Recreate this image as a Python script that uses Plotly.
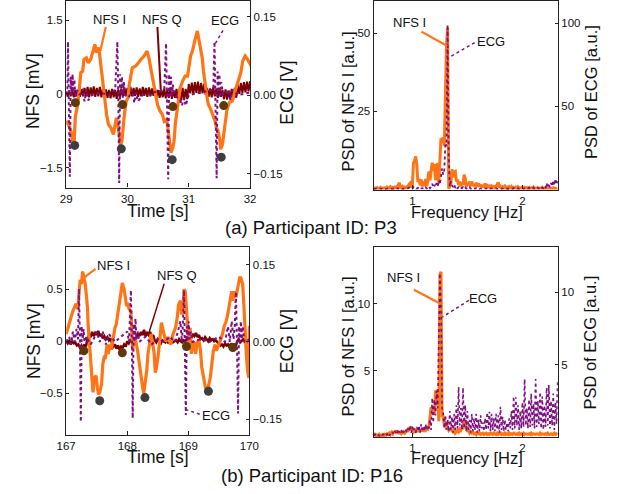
import numpy as np
import plotly.graph_objects as go

# ---------------- (a) Participant P3 : time domain ----------------
NFS_I_A_T = [29.00,29.05,29.08,29.11,29.13,29.15,29.19,29.22,29.24,29.27,29.29,29.33,29.36,29.40,29.44,29.47,29.49,29.52,29.54,29.57,
             29.61,29.64,29.66,29.69,29.73,29.77,29.79,29.82,29.85,29.87,29.89,29.91,29.93,29.95,29.98,30.01,30.03,30.06,30.08,30.14,
             30.17,30.22,30.27,30.32,30.35,30.38,30.42,30.45,30.49,30.53,30.57,30.60,30.64,30.66,30.69,30.71,30.74,30.76,30.78,30.81,
             30.83,30.86,30.90,30.94,30.98,31.01,31.03,31.06,31.08,31.11,31.14,31.16,31.19,31.22,31.24,31.27,31.30,31.32,31.35,31.39,
             31.43,31.45,31.48,31.51,31.52,31.55,31.57,31.59,31.62,31.66,31.71,31.74,31.78,31.81,31.85,31.88,31.92,31.95,31.99,32.02]
NFS_I_A = [-0.55,-0.66,-0.76,-1.00,-1.03,-0.46,-0.22,0.12,0.43,0.46,0.70,0.73,0.63,0.70,0.87,1.01,0.84,0.94,0.87,0.53,
           0.12,-0.15,-0.42,-0.62,-0.69,-0.83,-0.69,-0.49,-0.69,-0.83,-1.03,-0.97,-0.62,-0.42,-0.15,-0.08,0.19,0.40,0.53,0.57,
           0.63,0.70,0.77,0.87,0.73,0.53,0.26,0.06,-0.22,-0.35,-0.42,-0.56,-0.52,-0.69,-0.97,-1.20,-1.10,-0.97,-0.62,-0.35,
           -0.15,0.12,0.26,0.36,0.36,0.60,0.77,0.87,1.01,1.14,1.28,1.14,0.94,0.73,0.46,0.12,-0.08,-0.22,-0.29,-0.42,
           -0.56,-0.69,-0.76,-0.97,-1.13,-1.03,-0.83,-0.56,-0.35,-0.18,-0.15,-0.01,0.16,0.29,0.43,0.67,0.77,0.72,0.63,0.57]

NFS_Q_A_T0 = 29.0
NFS_Q_A_DT = 0.025
NFS_Q_A = [0.05,-0.06,0.07,-0.05,0.06,-0.07,0.08,-0.04,0.07,-0.06,0.09,-0.05,
           0.12,-0.05,0.14,-0.07,0.13,-0.04,0.15,-0.06,0.12,-0.05,0.14,-0.07,0.11,-0.06,
           0.09,-0.08,0.08,-0.09,0.10,-0.07,0.08,-0.10,0.09,-0.08,
           0.11,-0.05,0.13,-0.04,0.12,-0.06,0.14,-0.05,0.12,-0.04,0.13,-0.06,0.11,-0.05,0.14,-0.04,0.12,-0.06,0.13,-0.05,0.11,-0.04,0.12,-0.06,
           0.08,-0.08,0.09,-0.07,0.10,-0.09,0.08,-0.08,0.09,-0.10,0.07,-0.08,
           0.10,-0.12,0.11,-0.14,0.12,-0.13,0.10,-0.11,
           0.20,0.01,0.23,-0.01,0.24,0.02,0.25,0.00,0.22,0.01,0.20,-0.02,
           0.12,-0.06,0.11,-0.07,0.13,-0.05,0.10,-0.08,0.12,-0.06,
           0.08,-0.11,0.09,-0.12,0.07,-0.10,0.10,-0.12,0.12,-0.08,
           0.18,0.00,0.22,0.02,0.24,0.03,0.25,0.05,0.26]

ECG_A_T = [29.00,29.02,29.03,29.045,29.06,29.075,29.09,29.105,29.12,29.135,29.15,29.18,29.22,29.27,29.30,29.33,29.36,29.42,29.55,29.70,29.80,
           29.835,29.85,29.865,29.88,29.895,29.91,29.925,29.94,29.96,30.02,30.08,30.11,30.14,30.17,30.25,30.45,30.60,
           30.63,30.645,30.665,30.68,30.695,30.71,30.725,30.74,30.77,30.86,30.89,30.92,30.95,31.00,31.20,31.40,
           31.42,31.435,31.455,31.47,31.485,31.50,31.515,31.53,31.56,31.65,31.68,31.71,31.80,32.00]
ECG_A = [0.00,0.01,0.102,0.01,-0.156,0.035,0.00,0.04,0.005,0.03,-0.005,0.01,0.00,0.012,-0.012,0.01,-0.01,0.00,0.005,0.00,0.01,
         0.102,0.01,-0.168,0.04,0.005,0.035,-0.005,0.025,0.00,-0.005,0.01,-0.015,0.005,-0.012,0.00,0.005,0.01,
         0.099,0.01,-0.161,0.04,0.00,0.035,-0.005,0.02,0.00,-0.01,-0.02,-0.005,-0.02,0.00,0.005,0.01,
         0.102,0.01,-0.159,0.045,0.005,0.04,-0.005,0.025,0.00,0.01,-0.01,0.01,0.00,0.005]

MARK_A_UP_T = [29.15, 29.92, 30.74, 31.57]
MARK_A_UP = [-0.18, -0.22, -0.26, -0.24]
MARK_A_LO_T = [29.14, 29.90, 30.73, 31.53]
MARK_A_LO = [-1.05, -1.12, -1.34, -1.29]

# ---------------- (b) Participant P16 : time domain ----------------
NFS_I_B_T = [167.00,167.03,167.06,167.08,167.11,167.14,167.16,167.19,167.21,167.23,167.25,167.27,167.29,167.31,167.33,167.35,167.36,167.38,167.40,167.41,
             167.43,167.44,167.46,167.49,167.51,167.53,167.55,167.58,167.60,167.62,167.64,167.67,167.69,167.72,167.74,167.77,167.80,167.82,167.85,167.88,
             167.90,167.92,167.95,167.97,167.99,168.01,168.03,168.06,168.08,168.09,168.11,168.14,168.17,168.19,168.22,168.25,168.27,168.29,168.32,168.34,
             168.36,168.39,168.42,168.44,168.46,168.48,168.51,168.54,168.56,168.59,168.63,168.67,168.71,168.75,168.79,168.82,168.84,168.87,168.89,168.91,
             168.93,168.95,168.97,168.99,169.01,169.03,169.05,169.07,169.09,169.12,169.14,169.17,169.20,169.22,169.25,169.28,169.30,169.33,169.36,169.38,
             169.41,169.44,169.46,169.49,169.52,169.56,169.59,169.62,169.65,169.68,169.71,169.73,169.76,169.78,169.81,169.84,169.86,169.89,169.91,169.93,
             169.95,169.97,169.99,170.00]
NFS_I_B = [0.07,0.13,0.20,0.25,0.29,0.33,0.36,0.31,0.50,0.59,0.55,0.67,0.61,0.56,0.45,0.32,0.16,0.00,-0.12,-0.25,
           -0.41,-0.49,-0.35,-0.33,-0.44,-0.51,-0.49,-0.41,-0.22,-0.16,-0.17,-0.03,-0.12,-0.03,-0.08,0.04,0.13,0.16,0.29,0.42,
           0.51,0.56,0.50,0.40,0.34,0.35,0.31,0.29,0.10,-0.09,0.04,0.00,-0.09,-0.19,-0.32,-0.43,-0.50,-0.41,-0.28,-0.12,
           -0.03,0.07,-0.03,-0.11,-0.30,-0.25,-0.12,0.07,0.18,0.10,0.00,0.04,-0.03,0.07,0.13,0.23,0.35,0.39,0.26,0.29,
           0.50,0.48,0.32,0.13,-0.03,0.13,-0.12,-0.03,0.00,-0.12,-0.03,0.02,-0.09,-0.25,-0.36,-0.44,-0.48,-0.43,-0.35,-0.22,
           -0.09,-0.03,-0.09,-0.05,0.00,0.07,0.15,0.19,0.27,0.40,0.48,0.39,0.48,0.42,0.51,0.61,0.61,0.55,0.35,0.04,
           -0.12,-0.28,-0.35,0.15]

NFS_Q_B_T0 = 167.0
NFS_Q_B_DT = 0.025
NFS_Q_B = [0.00,-0.02,0.01,-0.03,0.00,-0.02,-0.01,-0.04,
           -0.03,-0.06,-0.04,-0.07,-0.03,-0.05,
           0.03,0.06,0.04,0.09,0.05,0.08,0.06,0.10,0.05,0.07,
           0.03,0.05,0.02,0.04,0.01,0.03,
           -0.02,-0.05,-0.03,-0.07,-0.04,-0.08,-0.05,-0.06,-0.03,-0.05,
           0.00,-0.02,0.01,-0.01,0.02,0.00,
           0.04,0.07,0.05,0.09,0.06,0.11,0.05,0.08,0.06,0.09,0.04,0.06,
           0.01,-0.01,0.02,0.00,-0.02,0.01,0.00,-0.01,0.02,-0.02,0.00,0.01,-0.01,0.00,
           0.01,-0.01,0.02,0.00,-0.01,0.01,0.00,0.02,
           0.04,0.06,0.03,0.07,0.05,0.08,0.04,0.06,
           0.02,0.03,0.01,0.04,0.02,0.00,0.03,0.01,0.02,0.00,0.01,-0.01,
           -0.02,-0.04,-0.03,-0.05,-0.02,-0.04,-0.03,-0.06,-0.02,-0.04,-0.03,-0.05,
           0.00,0.02,-0.01,0.01,0.02,0.00,0.01,-0.01,0.01]

ECG_B_T = [167.00,167.05,167.08,167.11,167.14,167.17,167.195,167.21,167.225,167.24,167.255,167.27,167.285,167.30,167.33,167.40,167.45,167.50,167.55,167.60,167.65,167.70,167.80,167.90,168.00,168.03,
           168.06,168.075,168.09,168.105,168.12,168.135,168.15,168.17,168.20,168.30,168.40,168.50,168.60,168.70,168.78,168.83,168.87,168.895,168.91,
           168.93,168.945,168.96,168.975,168.99,169.005,169.02,169.04,169.07,169.20,169.35,169.50,169.60,169.65,169.68,169.71,169.74,169.76,
           169.78,169.795,169.815,169.83,169.845,169.86,169.875,169.89,169.92,170.00]
ECG_B = [0.00,0.01,-0.005,0.02,0.00,0.025,0.005,0.103,0.01,-0.155,0.03,0.005,0.025,0.00,0.01,-0.005,0.005,0.02,0.00,0.02,-0.005,0.015,0.00,0.01,0.02,0.00,
         0.10,0.01,-0.148,0.035,0.00,0.045,0.005,0.02,0.00,0.01,-0.005,0.005,0.00,0.01,0.00,0.02,0.04,0.00,0.03,
         0.10,0.01,-0.142,0.03,0.00,0.04,0.005,0.02,0.00,0.005,0.00,0.01,0.00,0.03,0.00,0.04,0.005,0.03,
         0.097,0.01,-0.139,0.03,0.00,0.04,0.005,0.03,0.00,0.005]

MARK_B_UP_T = [167.29, 167.92, 168.97, 169.73]
MARK_B_UP = [-0.09, -0.11, -0.05, -0.06]
MARK_B_LO_T = [167.55, 168.29, 169.33]
MARK_B_LO = [-0.57, -0.54, -0.48]

# ---------------- spectra (frequency grid 0.65 .. 2.32 Hz, 0.01 Hz) ----------------
PSD_F0 = 0.65
PSD_DF = 0.01
PSD_NFS_A = [0.3,0.5,0.2,0.6,0.3,0.4,0.7,0.3,0.5,0.4,
             0.6,0.3,0.8,0.5,0.4,0.9,0.5,0.7,0.4,0.8,
             0.6,1.0,1.3,2.2,0.8,0.6,1.0,0.5,0.8,0.6,
             0.9,0.5,1.8,2.1,0.7,1.5,8.5,9.2,10.6,8.0,
             2.4,3.4,1.4,3.2,1.0,2.6,1.2,3.4,1.1,2.6,
             5.8,3.0,7.0,8.6,6.0,8.2,3.0,5.5,8.5,2.2,
             9.0,16.4,16.0,16.6,14.0,36.0,46.0,51.8,0.3,1.0,
             2.0,6.5,4.0,5.6,5.8,2.6,3.2,1.5,2.6,1.0,
             2.2,1.5,4.8,3.6,1.0,2.2,1.4,2.6,1.0,2.6,
             1.2,1.8,0.8,2.2,1.0,2.0,0.9,1.6,0.8,1.4,
             0.7,2.0,0.8,1.2,0.6,1.5,0.7,1.1,0.5,1.3,
             0.6,1.0,2.0,2.3,0.6,1.0,0.5,0.9,0.6,1.1,
             0.5,0.8,0.4,0.9,0.6,1.0,0.4,0.7,0.5,0.8,
             0.4,0.9,0.5,0.6,0.4,0.8,0.5,0.7,0.3,0.6,
             0.5,0.7,0.3,0.6,0.4,0.8,0.3,0.5,0.4,0.6,
             0.3,0.5,0.4,0.7,0.3,0.5,0.2,0.6,0.4,0.3,
             0.5,0.3,0.4,0.6,0.3,0.4,0.2,0.3]
PSD_ECG_A = [0.5,0.3,0.6,0.2,0.4,0.5,0.3,0.6,0.2,0.4,
             0.5,0.3,0.4,0.6,0.2,0.5,0.4,0.3,0.6,0.4,
             0.5,0.8,0.4,1.0,0.5,0.7,0.3,0.6,0.5,0.8,
             0.4,0.7,1.2,0.6,1.0,0.5,1.5,0.8,1.2,0.6,
             1.0,0.5,1.3,0.8,0.6,1.1,0.5,1.4,0.7,1.0,
             2.0,0.8,1.5,3.5,1.2,2.8,1.5,4.0,2.0,5.6,
             3.0,8.0,12.7,9.0,12.0,28.0,26.0,99.0,20.0,2.0,
             5.0,2.5,1.5,3.0,1.0,2.0,0.8,1.5,0.6,1.2,
             0.8,1.5,0.6,1.2,0.5,1.0,0.7,1.4,0.5,0.9,
             0.6,1.0,0.4,0.8,0.5,0.9,0.3,0.7,0.5,0.8,
             0.4,0.7,0.5,0.9,0.3,0.6,0.5,0.8,0.4,0.6,
             0.5,0.8,0.3,0.6,0.5,0.9,0.4,0.7,0.3,0.6,
             0.5,0.7,0.4,0.8,0.3,0.6,0.5,0.9,0.4,0.7,
             0.5,0.8,0.3,0.6,0.5,1.0,0.4,0.7,0.5,0.9,
             0.6,1.0,0.4,0.8,0.5,1.2,0.6,0.9,0.5,1.1,
             0.7,1.5,0.6,1.2,0.8,2.0,1.0,3.9,1.2,2.5,
             1.5,4.0,2.0,5.6,2.5,6.5,3.0,5.0]
PSD_NFS_B = [0.1,0.2,0.1,0.15,0.1,0.2,0.1,0.15,0.2,0.1,
             0.2,0.15,0.25,0.2,0.3,0.2,0.35,0.25,0.45,0.3,
             0.5,0.35,0.4,0.3,0.35,0.25,0.3,0.4,0.3,0.45,
             0.5,0.4,0.75,0.5,0.8,0.6,0.4,0.5,0.35,0.55,
             0.4,0.6,0.45,0.5,0.65,0.4,0.6,0.5,0.65,0.6,
             0.8,1.5,2.25,2.0,2.2,1.8,3.5,3.4,3.5,1.2,
             12.2,12.4,1.5,1.6,0.8,1.2,0.6,0.7,0.5,0.6,
             0.6,0.5,0.4,0.5,0.3,0.4,0.5,0.4,0.6,0.5,
             0.7,0.6,1.25,1.2,0.8,0.4,0.5,0.3,0.4,0.3,
             0.35,0.25,0.3,0.2,0.35,0.25,0.3,0.2,0.25,0.3,
             0.2,0.25,0.3,0.2,0.25,0.2,0.3,0.25,0.2,0.3,
             0.25,0.2,0.3,0.2,0.25,0.3,0.2,0.25,0.2,0.3,
             0.2,0.25,0.2,0.3,0.2,0.25,0.2,0.3,0.25,0.2,
             0.25,0.2,0.3,0.2,0.25,0.2,0.3,0.2,0.25,0.2,
             0.2,0.25,0.2,0.3,0.2,0.25,0.2,0.2,0.25,0.2,
             0.2,0.3,0.2,0.25,0.2,0.2,0.25,0.2,0.3,0.2,
             0.2,0.25,0.2,0.2,0.3,0.2,0.25,0.2]
PSD_ECG_B = [0.1,0.2,0.1,0.2,0.15,0.1,0.2,0.1,0.15,0.2,
             0.1,0.2,0.15,0.3,0.1,0.25,0.2,0.35,0.2,0.4,
             0.3,0.5,0.2,0.4,0.3,0.5,0.2,0.4,0.3,0.5,
             0.3,0.6,0.4,0.8,0.3,0.7,0.4,0.6,0.3,0.7,
             0.4,0.8,0.3,0.9,0.5,0.7,0.4,0.9,0.5,0.8,
             0.6,1.2,0.5,2.7,1.0,2.6,1.5,3.2,2.0,6.0,
             11.3,9.0,2.0,1.7,0.6,1.5,0.5,1.2,0.4,1.8,
             0.5,1.4,0.3,1.6,0.5,2.2,0.6,3.45,0.8,2.0,
             0.5,3.4,0.6,2.2,0.4,1.8,0.5,1.2,0.3,1.6,
             0.4,1.3,0.5,1.6,0.3,1.2,0.4,1.5,0.6,1.0,
             0.4,1.3,0.5,1.7,0.6,1.75,0.4,1.6,0.5,1.3,
             0.4,1.6,0.5,1.5,0.3,2.1,0.5,1.4,0.4,1.2,
             0.5,1.0,0.4,1.3,0.6,1.8,0.5,2.8,0.6,2.75,
             0.8,2.2,0.5,1.8,0.6,2.4,0.7,4.0,0.8,2.0,
             0.6,2.6,0.7,3.0,0.8,2.3,0.6,4.0,0.7,2.5,
             0.9,3.1,0.6,2.8,0.5,2.2,0.7,3.4,0.8,3.6,
             0.6,2.5,0.8,3.0,0.5,2.4,0.9,3.9]

# ---------------- styling ----------------
FONT = "Liberation Sans, Arial, sans-serif"
C_I = "#ff7415"
C_Q = "#7d0000"
C_ECG = "#7f0f80"
C_UP = "#5b3a0b"
C_LO = "#3e3e3e"
TXT = "#111111"
W, H = 624, 494

def grid(t0, dt, n):
    return np.round(t0 + dt * np.arange(n), 4)

fig = go.Figure()

# (a) time
fig.add_trace(go.Scatter(x=grid(NFS_Q_A_T0, NFS_Q_A_DT, len(NFS_Q_A)), y=NFS_Q_A, xaxis="x", yaxis="y",
                         mode="lines", line=dict(color=C_Q, width=2)))
fig.add_trace(go.Scatter(x=NFS_I_A_T, y=NFS_I_A, xaxis="x", yaxis="y", mode="lines",
                         line=dict(color=C_I, width=3.2)))
fig.add_trace(go.Scatter(x=ECG_A_T, y=ECG_A, xaxis="x", yaxis="y2", mode="lines",
                         line=dict(color=C_ECG, width=2, dash="dot")))
fig.add_trace(go.Scatter(x=MARK_A_UP_T, y=MARK_A_UP, xaxis="x", yaxis="y9", mode="markers",
                         marker=dict(color=C_UP, size=9)))
fig.add_trace(go.Scatter(x=MARK_A_LO_T, y=MARK_A_LO, xaxis="x", yaxis="y9", mode="markers",
                         marker=dict(color=C_LO, size=9)))

# (a) spectrum
fig.add_trace(go.Scatter(x=grid(PSD_F0, PSD_DF, len(PSD_NFS_A)), y=PSD_NFS_A, xaxis="x2", yaxis="y3", mode="lines",
                         line=dict(color=C_I, width=3)))
fig.add_trace(go.Scatter(x=grid(PSD_F0, PSD_DF, len(PSD_ECG_A)), y=PSD_ECG_A, xaxis="x2", yaxis="y4", mode="lines",
                         line=dict(color=C_ECG, width=1.8, dash="dot")))

# (b) time
fig.add_trace(go.Scatter(x=grid(NFS_Q_B_T0, NFS_Q_B_DT, len(NFS_Q_B)), y=NFS_Q_B, xaxis="x3", yaxis="y5",
                         mode="lines", line=dict(color=C_Q, width=2.5)))
fig.add_trace(go.Scatter(x=NFS_I_B_T, y=NFS_I_B, xaxis="x3", yaxis="y5", mode="lines",
                         line=dict(color=C_I, width=3.2)))
fig.add_trace(go.Scatter(x=ECG_B_T, y=ECG_B, xaxis="x3", yaxis="y6", mode="lines",
                         line=dict(color=C_ECG, width=2, dash="dot")))
fig.add_trace(go.Scatter(x=MARK_B_UP_T, y=MARK_B_UP, xaxis="x3", yaxis="y10", mode="markers",
                         marker=dict(color=C_UP, size=9)))
fig.add_trace(go.Scatter(x=MARK_B_LO_T, y=MARK_B_LO, xaxis="x3", yaxis="y10", mode="markers",
                         marker=dict(color=C_LO, size=9)))

# (b) spectrum
fig.add_trace(go.Scatter(x=grid(PSD_F0, PSD_DF, len(PSD_NFS_B)), y=PSD_NFS_B, xaxis="x4", yaxis="y7", mode="lines",
                         line=dict(color=C_I, width=3)))
fig.add_trace(go.Scatter(x=grid(PSD_F0, PSD_DF, len(PSD_ECG_B)), y=PSD_ECG_B, xaxis="x4", yaxis="y8", mode="lines",
                         line=dict(color=C_ECG, width=1.6, dash="dot")))

def px_dom(a, b):
    return [a / W, b / W]

def py_dom(top, bottom):
    return [1 - bottom / H, 1 - top / H]

axline = dict(showline=True, linecolor="#222", linewidth=1.3, showgrid=False, zeroline=False,
              tickfont=dict(family=FONT, size=11.5, color=TXT), ticks="inside", ticklen=3,
              tickcolor="#222", fixedrange=True)
xline = dict(axline, ticks="inside", ticklen=4, mirror=True)

RANGE_A_T = [29, 32]
RANGE_A_NFS = [-1.91, 1.89]
RANGE_A_ECG = [-0.177, 0.18]
RANGE_F = [0.648, 2.322]
RANGE_A_PSD = [0, 60.3]
RANGE_A_PSDE = [0, 113.3]
RANGE_B_T = [167, 170]
RANGE_B_NFS = [-0.90, 0.91]
RANGE_B_ECG = [-0.181, 0.185]
RANGE_B_PSD = [0, 14.3]
RANGE_B_PSDE = [0, 13.15]

fig.update_layout(
    width=W, height=H, autosize=False, margin=dict(l=0, r=0, t=0, b=0),
    paper_bgcolor="white", plot_bgcolor="white", showlegend=False,
    font=dict(family=FONT, color=TXT),
    xaxis=dict(xline, domain=px_dom(58, 248), range=RANGE_A_T, tickvals=[29, 30, 31, 32], anchor="y"),
    yaxis=dict(axline, domain=py_dom(0, 187), range=RANGE_A_NFS, tickvals=[-1.5, 0, 1.5],
               ticktext=["\u22121.5", "0", "1.5"], anchor="x"),
    yaxis2=dict(axline, overlaying="y", side="right", range=RANGE_A_ECG, tickvals=[-0.15, 0, 0.15],
                ticktext=["\u22120.15", "0.00", "0.15"], anchor="x"),
    yaxis9=dict(overlaying="y", range=RANGE_A_NFS, visible=False, anchor="x", fixedrange=True),
    xaxis2=dict(xline, domain=px_dom(375.7, 566), range=RANGE_F, tickvals=[1, 2], anchor="y3"),
    yaxis3=dict(axline, domain=py_dom(0, 189), range=RANGE_A_PSD, tickvals=[25, 50], anchor="x2"),
    yaxis4=dict(axline, overlaying="y3", side="right", range=RANGE_A_PSDE, tickvals=[50, 100], anchor="x2"),
    xaxis3=dict(xline, domain=px_dom(58, 247.3), range=RANGE_B_T, tickvals=[167, 168, 169, 170], anchor="y5"),
    yaxis5=dict(axline, domain=py_dom(246, 435), range=RANGE_B_NFS, tickvals=[-0.5, 0, 0.5],
                ticktext=["\u22120.5", "0", "0.5"], anchor="x3"),
    yaxis6=dict(axline, overlaying="y5", side="right", range=RANGE_B_ECG, tickvals=[-0.15, 0, 0.15],
                ticktext=["\u22120.15", "0.00", "0.15"], anchor="x3"),
    yaxis10=dict(overlaying="y5", range=RANGE_B_NFS, visible=False, anchor="x3", fixedrange=True),
    xaxis4=dict(xline, domain=px_dom(375.7, 566), range=RANGE_F, tickvals=[1, 2], anchor="y7"),
    yaxis7=dict(axline, domain=py_dom(246, 437), range=RANGE_B_PSD, tickvals=[5, 10], anchor="x4"),
    yaxis8=dict(axline, overlaying="y7", side="right", range=RANGE_B_PSDE, tickvals=[5, 10], anchor="x4"),
)

annotations = []
def ptext(text, x, y, size, angle=0):
    annotations.append(dict(text=text, x=x / W, y=1 - y / H, xref="paper", yref="paper",
                            showarrow=False, textangle=angle, xanchor="center", yanchor="middle",
                            font=dict(family=FONT, size=size, color=TXT)))

# axis titles and captions
ptext("NFS [mV]", 24, 90, 17.5, -90)
ptext("ECG [V]", 286, 92, 17.5, -90)
ptext("Time [s]", 153, 210, 17.5)
ptext("PSD of NFS I [a.u.]", 349, 101, 16.5, -90)
ptext("PSD of ECG [a.u.]", 600.5, 91, 16.5, -90)
ptext("Frequency [Hz]", 472, 211, 16.5)
ptext("(a) Participant ID: P3", 311, 227, 18.5)
ptext("NFS [mV]", 25.5, 341, 17.5, -90)
ptext("ECG [V]", 286, 341, 17.5, -90)
ptext("Time [s]", 153, 457, 17.5)
ptext("PSD of NFS I [a.u.]", 349.5, 346, 16.5, -90)
ptext("PSD of ECG [a.u.]", 599.5, 342, 16.5, -90)
ptext("Frequency [Hz]", 472, 458, 16.5)
ptext("(b) Participant ID: P16", 312, 475, 18.5)

def dtext(text, x, y, xr, yr):
    annotations.append(dict(text=text, x=x, y=y, xref=xr, yref=yr, showarrow=False,
                            xanchor="center", yanchor="middle", font=dict(family=FONT, size=13, color=TXT)))

shapes = []
def leader(x0, y0, x1, y1, xr, yr, color, width, dash="solid"):
    shapes.append(dict(type="line", x0=x0, y0=y0, x1=x1, y1=y1, xref=xr, yref=yr,
                       line=dict(color=color, width=width, dash=dash)))

# (a) time labels
dtext("NFS I", 29.705, 1.52, "x", "y")
leader(29.647, 1.36, 29.557, 0.87, "x", "y", C_I, 2.2)
dtext("NFS Q", 30.568, 1.52, "x", "y")
leader(30.489, 1.36, 30.543, 0.09, "x", "y", C_Q, 2)
dtext("ECG", 31.585, 1.50, "x", "y")
leader(31.558, 1.29, 31.427, 1.01, "x", "y", C_ECG, 1.5, "dot")
# (a) spectrum labels
dtext("NFS I", 0.976, 53.3, "x2", "y3")
leader(1.082, 50.5, 1.317, 45.9, "x2", "y3", C_I, 2.2)
dtext("ECG", 1.712, 47.5, "x2", "y3")
leader(1.566, 47.0, 1.331, 42.2, "x2", "y3", C_ECG, 1.5, "dot")
# (b) time labels
dtext("NFS I", 167.772, 0.728, "x3", "y5")
leader(167.48, 0.696, 167.306, 0.616, "x3", "y5", C_I, 2.2)
dtext("NFS Q", 168.818, 0.632, "x3", "y5")
leader(168.605, 0.553, 168.342, 0.057, "x3", "y5", C_Q, 1.5)
dtext("ECG", 169.461, -0.716, "x3", "y5")
leader(169.187, -0.699, 168.976, -0.658, "x3", "y5", C_ECG, 1.5, "dot")
# (b) spectrum labels
dtext("NFS I", 0.921, 12.0, "x4", "y7")
leader(1.014, 11.06, 1.243, 10.06, "x4", "y7", C_I, 2.2)
dtext("ECG", 1.645, 10.39, "x4", "y7")
leader(1.513, 10.26, 1.273, 9.01, "x4", "y7", C_ECG, 1.5, "dot")

fig.update_layout(annotations=annotations, shapes=shapes)
fig.write_html("out.html",
               config={"displayModeBar": False, "responsive": False},
               post_script="document.body.style.margin='0';document.body.style.overflow='hidden';")
